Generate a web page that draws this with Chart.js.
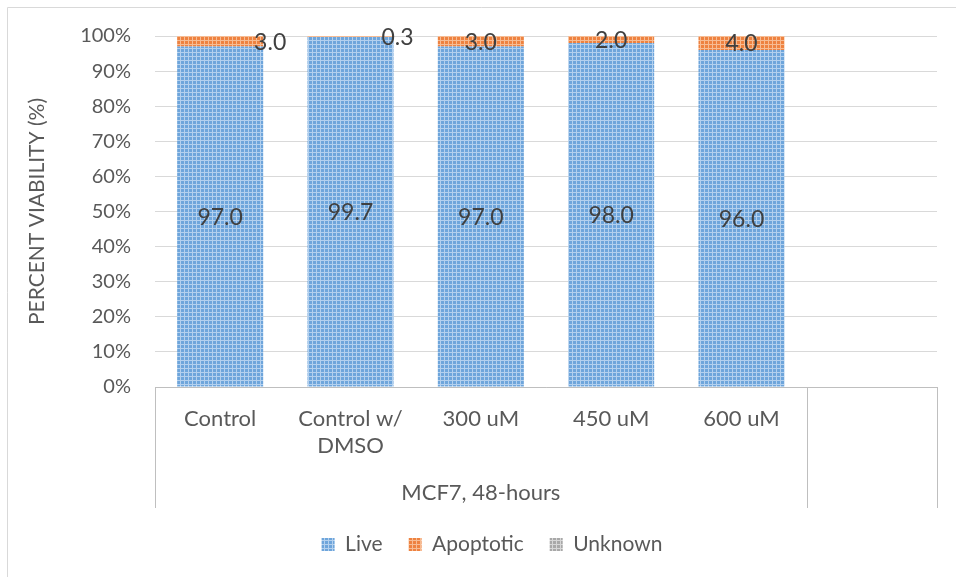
<!DOCTYPE html>
<html>
<head>
<meta charset="utf-8">
<script src="https://cdn.jsdelivr.net/npm/chart.js@4"></script>
<style>
  html, body { margin: 0; padding: 0; background: #fff; }
  #wrap { position: relative; width: 956px; height: 577px; overflow: hidden; }
  canvas { display: block; }
</style>
</head>
<body>
<div id="wrap"><canvas id="c" width="956" height="577"></canvas></div>
<script>
// Treatment groups along the category axis (last slot is an empty group)
const categories = ['Control', ['Control w/', 'DMSO'], '300 uM', '450 uM', '600 uM', ''];
const groupLabel = 'MCF7, 48-hours';
// Percent of cells in each state
const liveValues      = [97.0, 99.7, 97.0, 98.0, 96.0, null];
const apoptoticValues = [3.0, 0.3, 3.0, 2.0, 4.0, null];
const unknownValues   = [0, 0, 0, 0, 0, null];
const yTicks = [0, 10, 20, 30, 40, 50, 60, 70, 80, 90, 100];

const FONT = 'Lato, Carlito, "Open Sans", sans-serif';
const TEXT = '#595959';

// Small-grid hatch fill for the bars
function gridPattern(base, line) {
  const t = document.createElement('canvas');
  t.width = 4; t.height = 4;
  const g = t.getContext('2d');
  g.fillStyle = base; g.fillRect(0, 0, 4, 4);
  g.fillStyle = line;
  g.fillRect(0, 0, 4, 1);
  g.fillRect(0, 0, 1, 4);
  return document.getElementById('c').getContext('2d').createPattern(t, 'repeat');
}
const bluePat = gridPattern('#6EA5DB', '#B3D0EE');
const orangePat = gridPattern('#EE8240', '#F7BC93');
const grayPat = gridPattern('#A8A8A8', '#D6D6D6');

// Value labels: live in the middle of its segment, apoptotic on top segment
const labelShift = [50, 47, 0, 0, 0, 0];
const valueLabels = {
  id: 'valueLabels',
  afterDatasetsDraw(chart) {
    const ctx = chart.ctx;
    ctx.save();
    ctx.font = '23px ' + FONT;
    ctx.fillStyle = '#404040';
    ctx.textAlign = 'center';
    ctx.textBaseline = 'middle';
    [0, 1].forEach(di => {
      const meta = chart.getDatasetMeta(di);
      const data = chart.data.datasets[di].data;
      meta.data.forEach((bar, i) => {
        if (data[i] == null) return;
        const p = bar.getProps(['x', 'y', 'base'], true);
        const dx = di === 1 ? labelShift[i] : 0;
        ctx.fillText(data[i].toFixed(1), p.x + dx, (p.y + p.base) / 2 + 1);
      });
    });
    ctx.restore();
  }
};

// Centre the legend under the whole chart rather than the padded box
const legendShift = {
  id: 'legendShift',
  afterLayout(chart) {
    if (chart.legend) { chart.legend.left += 11; chart.legend.right += 11; }
  }
};

// Group separators, group caption and outer frame
const groupAxis = {
  id: 'groupAxis',
  afterDraw(chart) {
    const ctx = chart.ctx;
    const xs = chart.scales.x;
    const top = chart.chartArea.bottom;
    const bottom = top + 121;
    const mid = (xs.getPixelForValue(4) + xs.getPixelForValue(5)) / 2;
    ctx.save();
    ctx.strokeStyle = '#BFBFBF';
    ctx.lineWidth = 1;
    [xs.left, mid, xs.right].forEach(x => {
      const px = Math.round(x) + 0.5;
      ctx.beginPath(); ctx.moveTo(px, top); ctx.lineTo(px, bottom); ctx.stroke();
    });
    ctx.font = '22px ' + FONT;
    ctx.fillStyle = TEXT;
    ctx.textAlign = 'center';
    ctx.textBaseline = 'middle';
    ctx.fillText(groupLabel, (xs.left + mid) / 2, top + 106);
    ctx.strokeStyle = '#D9D9D9';
    ctx.beginPath();
    ctx.moveTo(7.5, 577); ctx.lineTo(7.5, 7.5); ctx.lineTo(956, 7.5);
    ctx.stroke();
    ctx.restore();
  }
};

new Chart(document.getElementById('c'), {
  type: 'bar',
  data: {
    labels: categories,
    datasets: [
      { label: 'Live', data: liveValues, backgroundColor: bluePat },
      { label: 'Apoptotic', data: apoptoticValues, backgroundColor: orangePat },
      { label: 'Unknown', data: unknownValues, backgroundColor: grayPat }
    ]
  },
  options: {
    responsive: false,
    animation: false,
    layout: { padding: { left: 25, right: 19, top: 24, bottom: 12 } },
    datasets: { bar: { categoryPercentage: 1, barPercentage: 0.66 } },
    scales: {
      x: {
        stacked: true,
        grid: { display: false },
        border: { display: true, color: '#BFBFBF' },
        ticks: { color: TEXT, font: { family: FONT, size: 22 }, padding: 11, maxRotation: 0, autoSkip: false },
        afterFit(s) { s.height = 121; }
      },
      y: {
        stacked: true,
        min: 0, max: 100,
        afterBuildTicks(s) { s.ticks = yTicks.map(v => ({ value: v })); },
        grid: { color: '#D9D9D9', drawTicks: false },
        border: { display: false },
        ticks: { color: TEXT, font: { family: FONT, size: 20 }, padding: 24, callback: v => v + '%' },
        title: { display: true, text: 'PERCENT VIABILITY (%)', color: TEXT, font: { family: FONT, size: 21 }, padding: { top: 0, bottom: 0 } },
        afterFit(s) { s.width = 130; }
      }
    },
    plugins: {
      legend: {
        position: 'bottom',
        labels: { color: TEXT, font: { family: FONT, size: 21 }, boxWidth: 13, boxHeight: 13, padding: 26 }
      },
      tooltip: { enabled: false }
    }
  },
  plugins: [valueLabels, legendShift, groupAxis]
});
</script>
</body>
</html>
